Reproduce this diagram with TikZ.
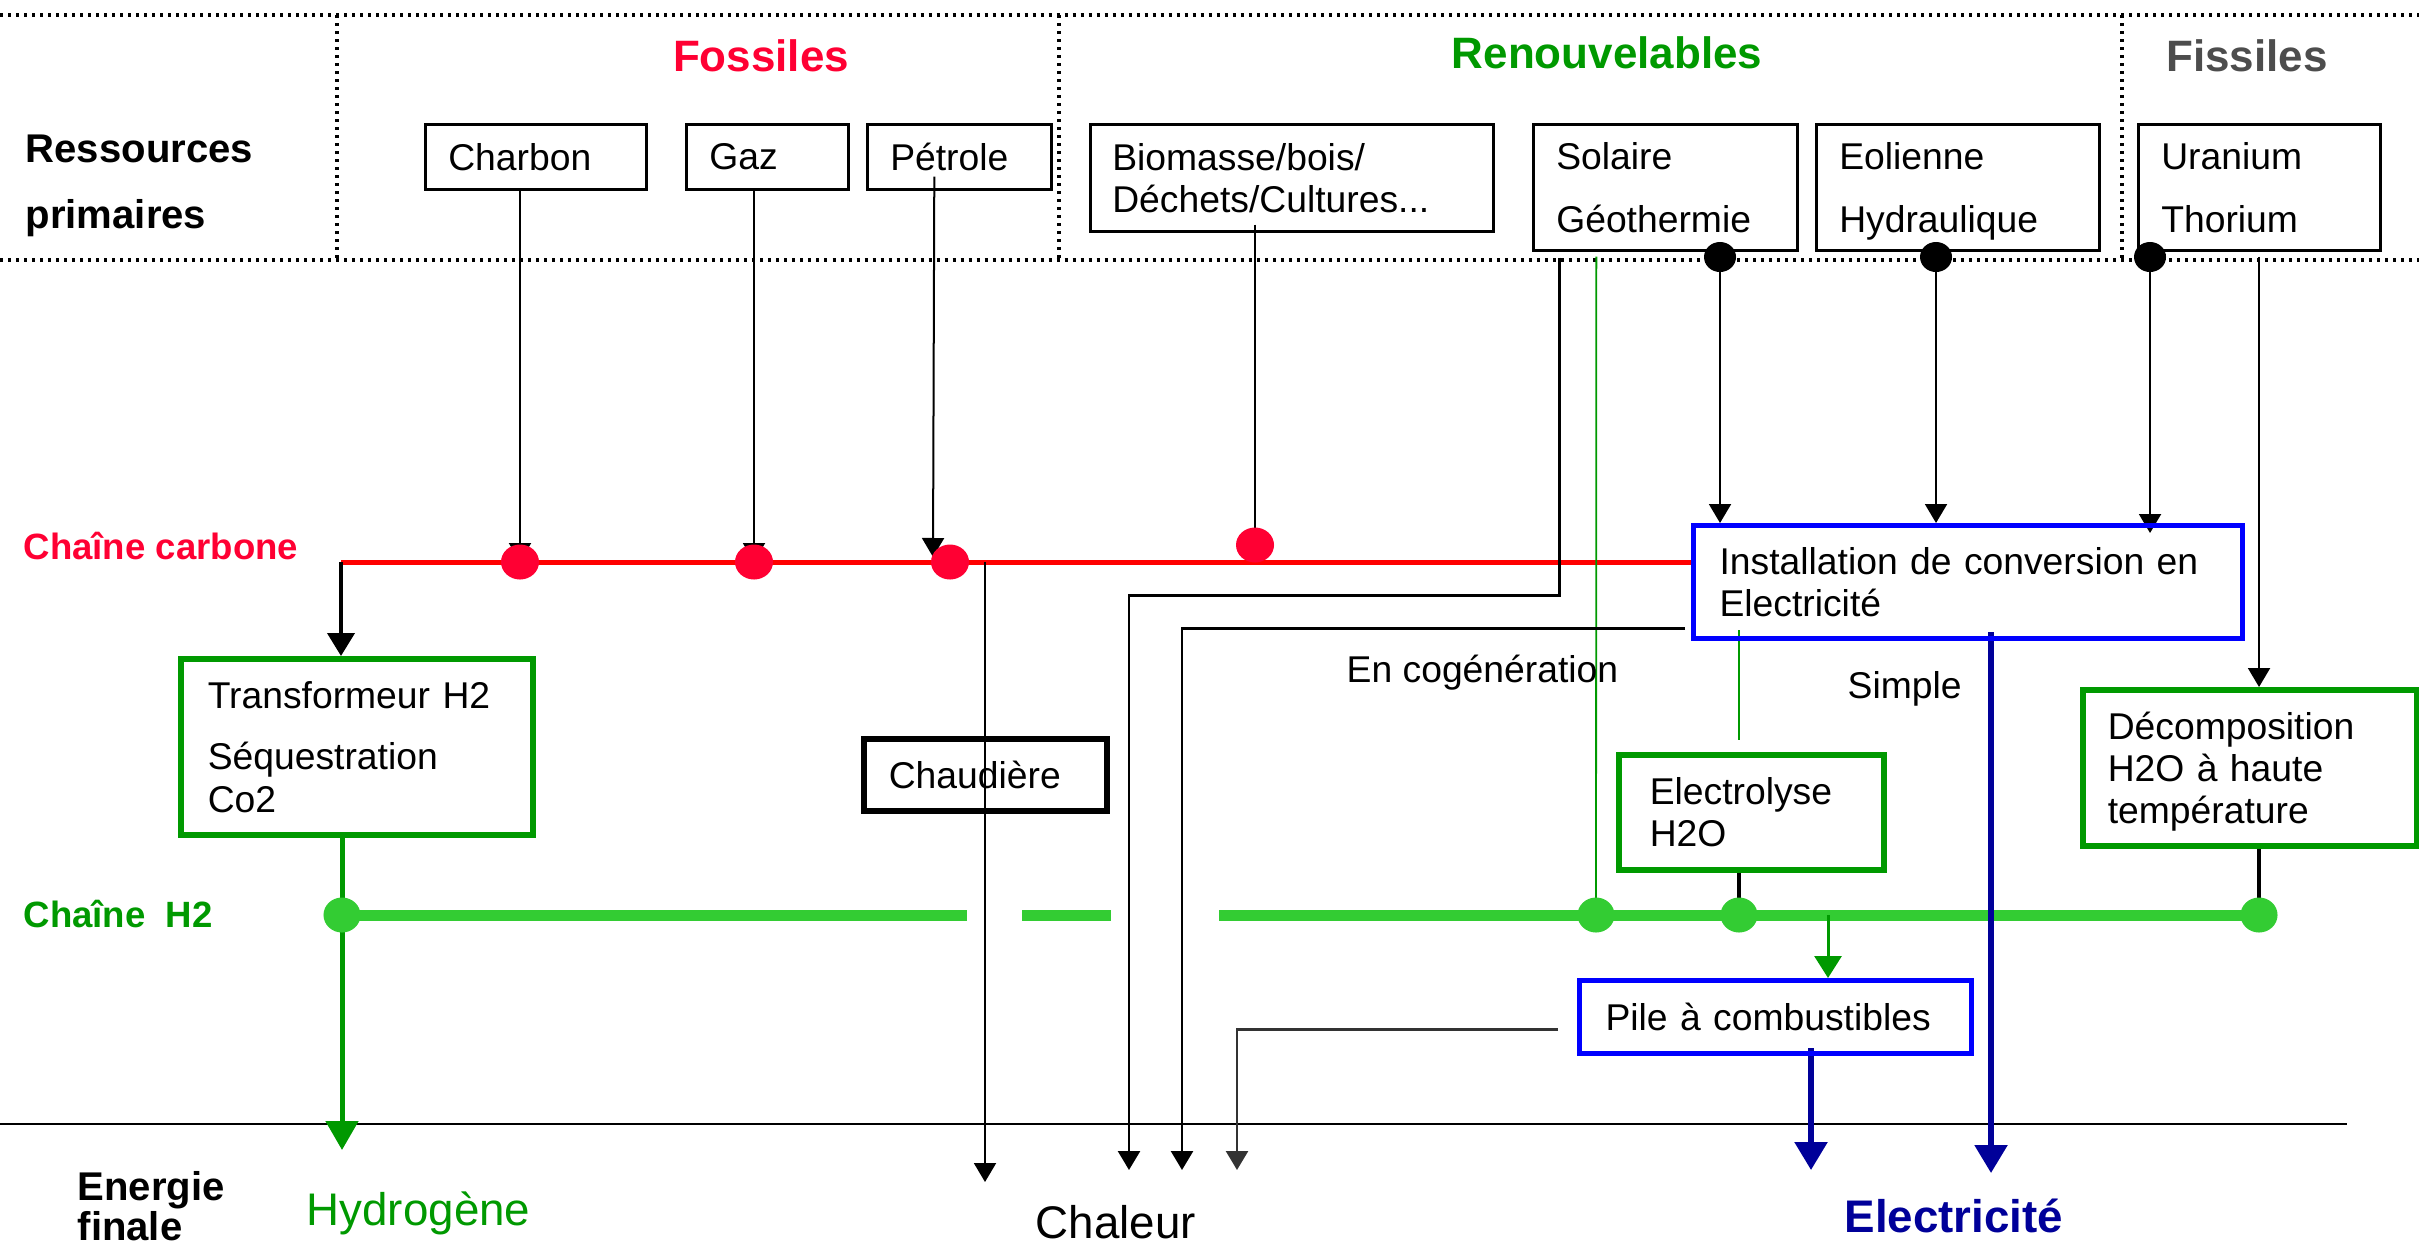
\documentclass[tikz,border=0pt]{standalone}
\usepackage{fontspec}
\setmainfont{Liberation Sans}
\usetikzlibrary{arrows.meta,shapes.geometric,backgrounds,calc}
\definecolor{fossred}{RGB}{255,0,51}
\definecolor{pured}{RGB}{255,0,0}
\definecolor{dgreen}{RGB}{0,153,0}
\definecolor{lgreen}{RGB}{51,204,51}
\definecolor{bbox}{RGB}{0,0,255}
\definecolor{navy}{RGB}{0,0,153}
\definecolor{fisgray}{RGB}{77,77,77}
\definecolor{dgray}{RGB}{51,51,51}
\newcommand\boxfont{\fontsize{10.6}{12}\selectfont}
\newcommand\hdrfont{\fontsize{12.5}{15}\selectfont\bfseries}
\newcommand\sidefont{\fontsize{11.4}{14}\selectfont\bfseries}
\newcommand\chainfont{\fontsize{10.4}{12}\selectfont\bfseries}
\newcommand\bigfont{\fontsize{13}{15}\selectfont}
\newcommand\nodepth[1]{\raisebox{0pt}[\height][0pt]{#1}}
\begin{document}
\begin{tikzpicture}[x=0.01cm,y=-0.01cm,
  box/.style={draw, rectangle, anchor=north west, align=left, inner ysep=0pt, font=\boxfont, line width=0.025cm},
  greenbox/.style={box, draw=dgreen, line width=0.055cm},
  bluebox/.style={box, draw=bbox, line width=0.05cm},
  blackbox/.style={box, draw=black, line width=0.055cm},
  txt/.style={inner sep=0pt, anchor=base west},
  kdot/.style={ellipse, fill=black, inner sep=0pt, minimum width=0.32cm, minimum height=0.30cm},
  rdot/.style={ellipse, fill=fossred, inner sep=0pt, minimum width=0.38cm, minimum height=0.35cm},
  gdot/.style={ellipse, fill=lgreen, inner sep=0pt, minimum width=0.37cm, minimum height=0.35cm},
  frm/.style={line width=0.045cm, dash pattern=on 0.03cm off 0.05cm},
  ln/.style={draw=black, line width=0.02cm},
  arr/.style={ln, -{Triangle[length=0.19cm,width=0.22cm]}},
  tarr/.style={draw=black, line width=0.04cm, -{Triangle[length=0.23cm,width=0.27cm]}},
  redln/.style={draw=pured, line width=0.05cm},
  h2ln/.style={draw=lgreen, line width=0.11cm},
  gln/.style={draw=dgreen, line width=0.05cm},
  garr/.style={gln, -{Triangle[length=0.29cm,width=0.32cm]}},
  gsarr/.style={draw=dgreen, line width=0.03cm, -{Triangle[length=0.22cm,width=0.27cm]}},
  gthin/.style={draw=dgreen, line width=0.018cm},
  narr/.style={draw=navy, line width=0.055cm, -{Triangle[length=0.28cm,width=0.32cm]}},
  kthick/.style={draw=black, line width=0.04cm},
  grarr/.style={draw=dgray, line width=0.025cm, -{Triangle[length=0.19cm,width=0.22cm]}}
]
\useasboundingbox (0,0) rectangle (2419,1248);

% ---------- headers ----------
\node[inner sep=0pt, anchor=base, font=\hdrfont, text=fossred] (hfos) at (761,71) {Fossiles};
\node[inner sep=0pt, anchor=base, font=\hdrfont, text=dgreen] (hren) at (1607,68) {Renouvelables};
\node[inner sep=0pt, anchor=base, font=\hdrfont, text=fisgray] (hfis) at (2247,71) {Fissiles};
\node[txt, font=\sidefont] (res1) at (25,162) {Ressources};
\node[txt, font=\sidefont] (res2) at (25,228) {primaires};

% ---------- resource boxes ----------
\node[box, inner xsep=0.23cm, text width=1.75cm, minimum height=0.65cm] (charbon) at (424,123) {Charbon};
\node[box, inner xsep=0.23cm, text width=1.16cm, minimum height=0.65cm] (gaz) at (685,123) {Gaz};
\node[box, inner xsep=0.23cm, text width=1.38cm, minimum height=0.65cm] (petrole) at (866,123) {Pétrole};
\node[box, inner xsep=0.22cm, text width=3.59cm, minimum height=1.07cm] (bio) at (1089,123) {Biomasse/bois/\\Déchets/Cultures...};
\node[box, inner xsep=0.23cm, text width=2.18cm, minimum height=1.26cm] (sol) at (1532,123) {Solaire\\[5.9pt]Géothermie};
\node[box, inner xsep=0.23cm, text width=2.37cm, minimum height=1.26cm] (eol) at (1815,123) {Eolienne\\[5.9pt]\nodepth{Hydraulique}};
\node[box, inner xsep=0.23cm, text width=1.96cm, minimum height=1.26cm] (ura) at (2137,123) {Uranium\\[5.9pt]Thorium};

% ---------- process boxes ----------
\node[bluebox, inner xsep=0.26cm, text width=4.97cm, minimum height=1.13cm] (inst) at (1691,523) {\mbox{Installation de conversion en}\\Electricité};
\node[greenbox, inner xsep=0.27cm, text width=2.98cm, minimum height=1.76cm] (tr) at (178,656) {Transformeur H2\\[5.6pt]Séquestration\\Co2};
\node[blackbox, inner xsep=0.25cm, text width=1.93cm, minimum height=0.72cm] (chaud) at (861,736) {Chaudière};
\node[greenbox, inner xsep=0.31cm, text width=2.03cm, minimum height=1.15cm] (elec) at (1616,752) {Electrolyse\\H2O};
\node[greenbox, inner xsep=0.25cm, text width=2.84cm, minimum height=1.56cm] (deco) at (2080,687) {Décomposition\\H2O à haute\\\nodepth{température}};
\node[bluebox, inner xsep=0.26cm, text width=3.40cm, minimum height=0.73cm] (pile) at (1577,978) {\mbox{Pile à combustibles}};

% ---------- chain labels ----------
\node[txt, font=\chainfont, text=fossred] (lcarb) at (23,559) {Chaîne carbone};
\node[txt, font=\chainfont, text=dgreen] (lh2) at (23,927) {Chaîne\ \ H2};
\node[txt, font=\boxfont] (lcog) at (1346,682) {En cogénération};
\node[txt, font=\boxfont] (lsimp) at (1847,698) {Simple};

% ---------- bottom labels ----------
\node[txt, font=\sidefont] (ef1) at (77,1200) {Energie};
\node[txt, font=\sidefont] (ef2) at (77,1240) {finale};
\node[txt, font=\bigfont, text=dgreen] (lhyd) at (306,1225) {Hydrogène};
\node[txt, font=\bigfont] (lcha) at (1035,1238) {Chaleur};
\node[txt, font=\bigfont\bfseries, text=navy] (lele) at (1844,1232) {Electricité};

% ---------- dots ----------
\node[kdot] (k1) at (1720,257) {};
\node[kdot] (k2) at (1936,257) {};
\node[kdot] (k3) at (2150,257) {};
\node[rdot] (r1) at (520,562) {};
\node[rdot] (r2) at (754,562) {};
\node[rdot] (r3) at (950,562) {};
\node[rdot] (r4) at (1255,545) {};
\node[gdot] (g1) at (342,915) {};
\node[gdot] (g2) at (1596,915) {};
\node[gdot] (g3) at (1739,915) {};
\node[gdot] (g4) at (2259,915) {};

% ---------- free ends ----------
\coordinate (rl) at (341,562);
\coordinate (pd) at (985,562);
\coordinate (pdend) at (985,1182);
\coordinate (hydend) at (342,1150);
\coordinate (h2s1) at (967,915);
\coordinate (h2s2) at (1022,915);
\coordinate (h2s3) at (1111,915);
\coordinate (h2s4) at (1219,915);
\coordinate (c1) at (1129,1170);
\coordinate (c2) at (1182,1170);
\coordinate (c3) at (1237,1170);
\coordinate (n1) at (1991,1173);
\coordinate (n2) at (1811,1170);
\coordinate (pg) at (1828,915);
\coordinate (sepL) at (0,1124);
\coordinate (sepR) at (2347,1124);

\begin{pgfonlayer}{background}
% dotted frame
\draw[frm] (0,15) -- (2419,15);
\draw[frm] (0,260) -- (2419,260);
\draw[frm] (337,15) -- (337,260);
\draw[frm] (1059,15) -- (1059,260);
\draw[frm] (2122,15) -- (2122,260);
% separator
\draw[draw=black, line width=0.025cm] (sepL) -- (sepR);
% chains
\draw[redln] (rl) -- (inst.west |- rl);
\draw[h2ln] (g1.center) -- (h2s1);
\draw[h2ln] (h2s2) -- (h2s3);
\draw[h2ln] (h2s4) -- (g4.center);
% fossil arrows
\draw[arr] (charbon.south -| r1) -- (r1.center);
\draw[arr] (gaz.south -| r2) -- (r2.center);
\draw[arr] ($(petrole.south)+(-25,-14)$) -- ($(r3.center)+(-17,-5)$);
\draw[ln] ($(bio.south -| r4)+(0,-8)$) -- (r4.center);
% carbon chain to transformer
\draw[tarr] (rl) -- (tr.north -| rl);
\draw[gln] (tr.south -| g1) -- (g1.center);
\draw[garr] (g1.center) -- (hydend);
% boiler line
\draw[arr] (pd) -- (pdend);
% solar / geothermal heat line
\draw[arr, line width=0.025cm] ($(sol.south)+(-106,6)$) -- ++(0,338) -| (c1);
\draw[gthin] ($(sol.south)+(-69,5)$) -- (g2.center);
% installation cogeneration heat line
\draw[arr, line width=0.025cm] ($(inst.west)+(-6,46.5)$) -| (c2);
% renewable/fissile arrows to installation
\draw[arr] (k1.center) -- (inst.north -| k1);
\draw[arr] (k2.center) -- (inst.north -| k2);
\draw[arr] (k3.center) -- ($(inst.north -| k3)+(0,10)$);
% installation to electrolysis
\draw[gthin] ($(inst.south -| g3)+(0,-11)$) -- ($(elec.north -| g3)+(0,-12)$);
\draw[kthick] (elec.south -| g3) -- (g3.center);
% electricity direct
\draw[narr] ($(inst.south -| n1)+(0,-9)$) -- (n1);
% fissile
\draw[arr] ($(ura.south -| g4)+(0,5)$) -- (deco.north -| g4);
\draw[kthick] (deco.south -| g4) -- (g4.center);
% fuel cell
\draw[gsarr] (pg) -- (pile.north -| pg);
\draw[narr] ($(pile.south -| n2)+(0,-8)$) -- (n2);
\draw[grarr] ($(pile.west)+(-19,12.5)$) -| (c3);
\end{pgfonlayer}
\end{tikzpicture}
\end{document}
